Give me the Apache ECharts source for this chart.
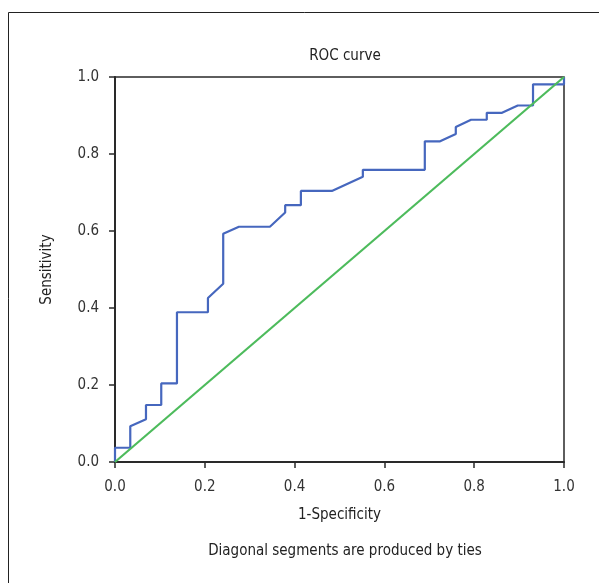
<!DOCTYPE html>
<html>
<head>
<meta charset="utf-8">
<script src="https://cdn.jsdelivr.net/npm/echarts@6/dist/echarts.min.js"></script>
<style>
  html, body { margin: 0; padding: 0; background: #fff; }
  #chart { width: 599px; height: 583px; }
</style>
</head>
<body>
<div id="chart"></div>
<script>
// ROC points (1-specificity, sensitivity)
const fpr = [0, 0, 0.034, 0.034, 0.069, 0.069, 0.103, 0.103, 0.138, 0.138, 0.207, 0.207,
  0.241, 0.241, 0.276, 0.345, 0.379, 0.379, 0.414, 0.414, 0.483, 0.552, 0.552, 0.690,
  0.690, 0.724, 0.759, 0.759, 0.793, 0.828, 0.828, 0.862, 0.897, 0.931, 0.931, 1, 1]
const tpr = [0, 0.037, 0.037, 0.093, 0.111, 0.148, 0.148, 0.204, 0.204, 0.389, 0.389, 0.426,
  0.463, 0.593, 0.611, 0.611, 0.648, 0.667, 0.667, 0.704, 0.704, 0.741, 0.759, 0.759,
  0.833, 0.833, 0.852, 0.870, 0.889, 0.889, 0.907, 0.907, 0.926, 0.926, 0.981, 0.981, 1]
const refX = [0, 1]
const refY = [0, 1]
const ticks = [0, 0.2, 0.4, 0.6, 0.8, 1.0]

const font = "'DejaVu Sans Condensed', 'DejaVu Sans', sans-serif"
const chart = echarts.init(document.getElementById('chart'))

const axisCommon = {
  type: 'value',
  min: ticks[0],
  max: ticks[ticks.length - 1],
  interval: 0.2,
  nameLocation: 'middle',
  nameTextStyle: { fontFamily: font, fontSize: 15, color: '#222' },
  axisLine: { show: true, lineStyle: { color: '#2a2a2a', width: 2 } },
  axisTick: { show: true, length: 6, lineStyle: { color: '#2a2a2a', width: 1.5 } },
  axisLabel: {
    fontFamily: font, fontSize: 15, color: '#333',
    formatter: v => v.toFixed(1)
  },
  splitLine: { show: false }
}

chart.setOption({
  animation: false,
  title: [
    {
      text: 'ROC curve', left: 340, top: 44, textAlign: 'center',
      textStyle: { fontFamily: font, fontSize: 15, fontWeight: 'normal', color: '#222' }
    },
    {
      text: 'Diagonal segments are produced by ties', left: 340, top: 539, textAlign: 'center',
      textStyle: { fontFamily: font, fontSize: 15, fontWeight: 'normal', color: '#222' }
    }
  ],
  graphic: [
    {
      type: 'rect',
      shape: { x: 8.5, y: 12.5, width: 700, height: 700 },
      style: { fill: 'none', stroke: '#222', lineWidth: 1 }
    }
  ],
  grid: {
    left: 115, top: 77, right: 35, bottom: 121,
    show: true, borderColor: '#2a2a2a', borderWidth: 1.5, backgroundColor: 'transparent'
  },
  xAxis: Object.assign({}, axisCommon, {
    name: '1-Specificity', nameGap: 46,
    axisLabel: Object.assign({}, axisCommon.axisLabel, { margin: 18 })
  }),
  yAxis: Object.assign({}, axisCommon, {
    name: 'Sensitivity', nameGap: 60,
    axisLabel: Object.assign({}, axisCommon.axisLabel, { margin: 16 })
  }),
  series: [
    {
      type: 'line',
      data: fpr.map((x, i) => [x, tpr[i]]),
      symbol: 'none',
      lineStyle: { color: '#4667be', width: 2.2 }
    },
    {
      type: 'line',
      data: refX.map((x, i) => [x, refY[i]]),
      symbol: 'none',
      lineStyle: { color: '#4dbb5c', width: 2.2 }
    }
  ]
})
</script>
</body>
</html>
